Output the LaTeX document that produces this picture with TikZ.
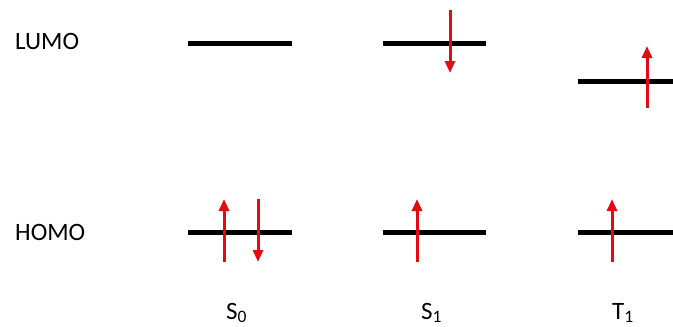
\documentclass[tikz,border=0pt]{standalone}
\usepackage{fontspec}
\setmainfont{Carlito}
\definecolor{spinred}{RGB}{228,10,18}
\usetikzlibrary{arrows.meta}
\tikzstyle{level}=[line width=5pt]
\tikzstyle{spin}=[draw=spinred, line width=3pt, -{Triangle[length=12pt, width=10pt]}]
\tikzstyle{lbl}=[inner sep=0pt, font=\fontsize{25}{29}\selectfont]

\begin{document}
\begin{tikzpicture}[x=1pt, y=-1pt]
    \useasboundingbox (0,0) rectangle (673,327);
    % orbital levels
    \coordinate (s0la) at (188,43);
    \coordinate (s0lb) at (292,43);
    \coordinate (s1la) at (383,43);
    \coordinate (s1lb) at (486,43);
    \coordinate (t1la) at (578,81);
    \coordinate (t1lb) at (673,81);
    \coordinate (s0ha) at (188,232);
    \coordinate (s0hb) at (292,232);
    \coordinate (s1ha) at (383,232);
    \coordinate (s1hb) at (486,232);
    \coordinate (t1ha) at (578,232);
    \coordinate (t1hb) at (673,232);
    \draw[level] (s0la) -- (s0lb);
    \draw[level] (s1la) -- (s1lb);
    \draw[level] (t1la) -- (t1lb);
    \draw[level] (s0ha) -- (s0hb);
    \draw[level] (s1ha) -- (s1hb);
    \draw[level] (t1ha) -- (t1hb);
    % electrons
    \coordinate (e1a) at (224,262);
    \coordinate (e1b) at (224,199);
    \coordinate (e2a) at (258,199);
    \coordinate (e2b) at (258,262);
    \coordinate (e3a) at (417,262);
    \coordinate (e3b) at (417,199);
    \coordinate (e4a) at (450,10);
    \coordinate (e4b) at (450,73);
    \coordinate (e5a) at (612,262);
    \coordinate (e5b) at (612,199);
    \coordinate (e6a) at (647,108);
    \coordinate (e6b) at (647,46);
    \draw[spin] (e1a) -- (e1b);
    \draw[spin] (e2a) -- (e2b);
    \draw[spin] (e3a) -- (e3b);
    \draw[spin] (e4a) -- (e4b);
    \draw[spin] (e5a) -- (e5b);
    \draw[spin] (e6a) -- (e6b);
    % labels
    \node[lbl, anchor=base west] (lumo) at (15,49) {LUMO};
    \node[lbl, anchor=base west] (homo) at (15,240) {HOMO};
    \node[lbl, anchor=base west] (s0) at (226,319) {S\textsubscript{0}};
    \node[lbl, anchor=base west] (s1) at (421,319) {S\textsubscript{1}};
    \node[lbl, anchor=base west] (t1) at (612,319) {T\textsubscript{1}};
\end{tikzpicture}
\end{document}
